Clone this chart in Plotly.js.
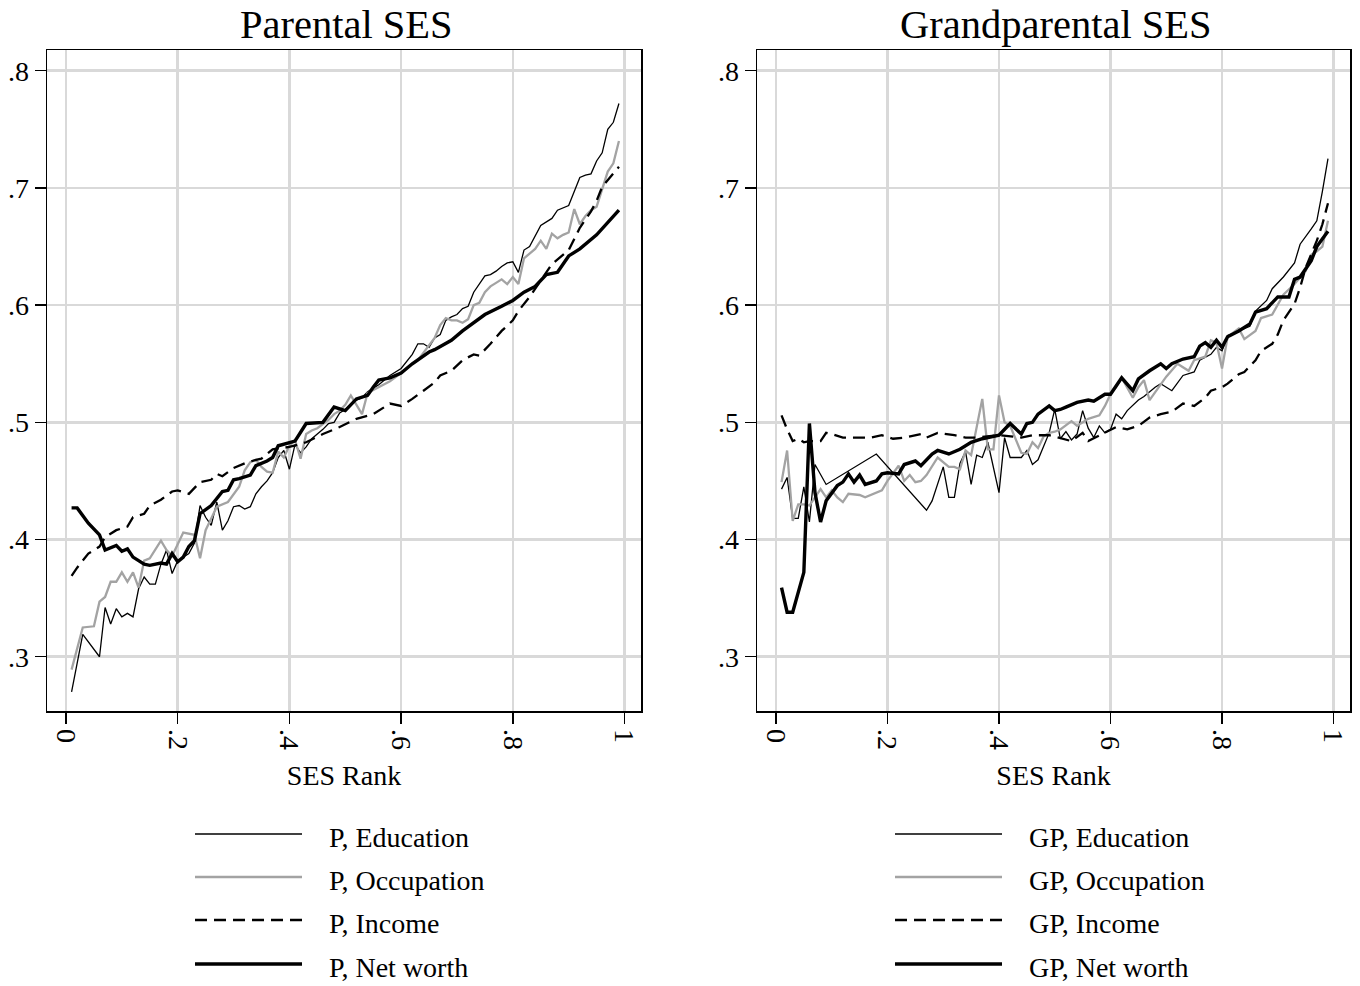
<!DOCTYPE html>
<html>
<head>
<meta charset="utf-8">
<script src="https://cdn.plot.ly/plotly-3.0.1.min.js"></script>
<style>html,body{margin:0;padding:0;background:#fff;}#chart{width:1360px;height:986px;}</style>
</head>
<body>
<div id="chart"></div>
<script>
// ---------- Data ----------
const panelTitles = ["Parental SES", "Grandparental SES"];
const xAxisTitle = "SES Rank";
const xTickVals = [0, 0.2, 0.4, 0.6, 0.8, 1];
const xTickText = ["0", ".2", ".4", ".6", ".8", "1"];
const yTickVals = [0.3, 0.4, 0.5, 0.6, 0.7, 0.8];
const yTickText = [".3", ".4", ".5", ".6", ".7", ".8"];
const leftNames = ["P, Education", "P, Occupation", "P, Income", "P, Net worth"];
const rightNames = ["GP, Education", "GP, Occupation", "GP, Income", "GP, Net worth"];

// Parental SES
const pEduX = [.01,.03,.06,.07,.08,.09,.10,.11,.12,.13,.14,.15,.16,.17,.18,.19,.20,.22,.23,.24,.25,.26,.27,.28,.29,.30,.31,.32,.33,.34,.35,.36,.37,.38,.39,.40,.41,.42,.43,.44,.45,.46,.47,.48,.49,.50,.52,.53,.54,.56,.58,.60,.62,.63,.64,.65,.66,.67,.68,.69,.70,.71,.72,.73,.75,.76,.77,.78,.79,.80,.81,.82,.83,.85,.87,.88,.90,.92,.93,.94,.95,.96,.97,.98,.99];
const pEduY = [.270,.319,.300,.342,.328,.341,.334,.337,.334,.358,.368,.362,.362,.379,.391,.371,.382,.388,.397,.429,.419,.412,.432,.408,.416,.428,.429,.426,.428,.439,.445,.450,.457,.470,.476,.460,.481,.474,.479,.486,.490,.494,.499,.500,.508,.511,.519,.521,.526,.532,.540,.546,.558,.567,.567,.564,.572,.575,.587,.590,.592,.597,.599,.611,.625,.626,.629,.633,.636,.637,.628,.647,.650,.668,.674,.681,.685,.709,.711,.712,.723,.730,.750,.756,.772];

const pOccX = [.01,.03,.05,.06,.07,.08,.09,.10,.11,.12,.13,.14,.15,.16,.17,.18,.19,.21,.22,.23,.24,.25,.26,.27,.29,.30,.31,.32,.33,.34,.35,.36,.37,.38,.39,.40,.41,.42,.43,.44,.45,.47,.48,.49,.50,.51,.52,.53,.54,.56,.58,.60,.62,.63,.65,.66,.67,.68,.69,.70,.71,.72,.73,.74,.75,.76,.77,.78,.79,.80,.81,.82,.83,.84,.85,.86,.87,.88,.89,.90,.91,.92,.93,.94,.95,.96,.97,.98,.99];
const pOccY = [.289,.325,.326,.347,.351,.364,.364,.372,.364,.372,.359,.382,.384,.392,.399,.391,.386,.406,.405,.404,.384,.408,.418,.428,.432,.439,.445,.459,.466,.468,.462,.458,.457,.475,.470,.480,.485,.469,.490,.493,.495,.502,.507,.510,.515,.523,.515,.507,.525,.530,.535,.542,.550,.553,.565,.572,.583,.589,.587,.587,.585,.588,.600,.602,.611,.616,.619,.622,.618,.624,.618,.640,.644,.648,.655,.648,.661,.657,.660,.662,.682,.669,.676,.681,.684,.700,.714,.721,.740];

const pIncX = [.01,.02,.04,.06,.07,.09,.11,.12,.14,.15,.17,.19,.20,.22,.24,.26,.27,.28,.30,.32,.34,.35,.37,.40,.43,.46,.49,.52,.55,.58,.60,.62,.64,.66,.67,.69,.71,.73,.74,.76,.78,.80,.81,.83,.85,.87,.90,.92,.94,.95,.96,.99];
const pIncY = [.369,.376,.388,.394,.402,.408,.411,.419,.422,.429,.434,.441,.442,.439,.449,.451,.456,.454,.461,.465,.468,.469,.477,.479,.483,.490,.496,.503,.507,.516,.514,.520,.527,.534,.540,.544,.553,.558,.557,.567,.578,.587,.595,.607,.621,.635,.647,.666,.680,.689,.701,.718];

const pNetX = [.01,.02,.04,.06,.07,.09,.10,.11,.12,.13,.14,.15,.16,.17,.18,.19,.20,.21,.22,.23,.24,.26,.28,.29,.30,.31,.33,.34,.36,.37,.38,.40,.41,.43,.45,.46,.48,.50,.52,.54,.55,.56,.58,.60,.62,.64,.65,.66,.69,.71,.73,.75,.78,.80,.82,.84,.86,.88,.90,.92,.95,.97,.99];
const pNetY = [.427,.427,.414,.404,.391,.395,.390,.392,.385,.382,.379,.378,.379,.380,.379,.388,.381,.385,.394,.399,.422,.429,.441,.442,.451,.452,.455,.463,.467,.470,.480,.483,.484,.499,.500,.500,.513,.510,.520,.523,.530,.536,.538,.542,.550,.557,.560,.562,.570,.578,.585,.592,.599,.604,.611,.616,.626,.628,.642,.648,.660,.670,.681];

// Grandparental SES
const gEduX = [.01,.02,.03,.04,.05,.06,.07,.09,.18,.27,.28,.30,.31,.32,.33,.34,.35,.36,.37,.38,.40,.41,.42,.44,.45,.46,.47,.48,.49,.50,.51,.52,.53,.54,.55,.56,.57,.58,.59,.60,.61,.62,.63,.65,.66,.68,.69,.71,.73,.75,.76,.78,.79,.80,.81,.83,.85,.86,.88,.89,.91,.93,.94,.96,.97,.98,.99];
const gEduY = [.443,.453,.418,.418,.445,.415,.464,.447,.473,.425,.433,.462,.436,.436,.465,.475,.447,.472,.470,.483,.440,.487,.470,.470,.476,.464,.468,.480,.491,.511,.486,.492,.485,.490,.510,.495,.487,.497,.491,.494,.507,.503,.510,.519,.522,.530,.533,.527,.540,.543,.553,.558,.564,.561,.574,.578,.582,.595,.604,.614,.624,.636,.652,.665,.672,.697,.725];

const gOccX = [.01,.02,.03,.04,.05,.06,.07,.08,.09,.10,.11,.12,.13,.15,.16,.18,.19,.20,.22,.23,.24,.25,.26,.27,.28,.29,.31,.32,.33,.34,.35,.37,.38,.39,.40,.41,.42,.44,.45,.46,.47,.48,.49,.50,.51,.53,.54,.56,.58,.59,.60,.61,.62,.64,.65,.66,.67,.69,.70,.72,.74,.75,.77,.78,.79,.80,.81,.83,.84,.86,.87,.89,.91,.93,.95,.96,.97,.98,.99];
const gOccY = [.449,.476,.416,.430,.430,.429,.436,.443,.436,.442,.436,.432,.439,.438,.436,.440,.442,.450,.463,.450,.455,.449,.450,.455,.462,.470,.462,.462,.460,.476,.472,.520,.477,.477,.523,.500,.497,.474,.473,.483,.478,.488,.491,.492,.494,.501,.497,.503,.506,.514,.524,.530,.538,.521,.530,.536,.519,.533,.539,.550,.544,.553,.556,.570,.568,.546,.573,.580,.571,.578,.589,.592,.609,.618,.629,.643,.646,.650,.672];

const gIncX = [.01,.02,.03,.04,.05,.06,.08,.09,.10,.12,.15,.17,.19,.21,.23,.26,.27,.29,.32,.34,.36,.40,.44,.46,.49,.53,.55,.56,.61,.63,.65,.67,.69,.71,.73,.75,.77,.78,.80,.81,.83,.84,.86,.87,.89,.90,.91,.93,.94,.95,.97,.98,.99];
const gIncY = [.506,.494,.484,.486,.483,.484,.484,.491,.490,.487,.487,.487,.489,.486,.487,.490,.487,.491,.489,.487,.487,.489,.487,.489,.489,.484,.491,.484,.496,.494,.497,.504,.507,.509,.516,.514,.521,.527,.530,.533,.541,.543,.553,.561,.567,.575,.587,.601,.615,.632,.655,.669,.687];

const gNetX = [.01,.02,.03,.05,.06,.07,.08,.09,.11,.12,.13,.14,.15,.16,.18,.19,.20,.22,.23,.25,.26,.28,.29,.31,.33,.35,.37,.40,.42,.44,.45,.46,.47,.49,.50,.51,.52,.54,.56,.57,.59,.60,.62,.64,.65,.67,.69,.70,.71,.73,.75,.76,.77,.78,.79,.80,.81,.83,.85,.86,.88,.90,.92,.93,.94,.96,.97,.99];
const gNetY = [.359,.338,.338,.372,.499,.440,.415,.433,.446,.449,.456,.449,.455,.447,.450,.456,.457,.456,.464,.467,.463,.473,.476,.473,.477,.483,.486,.489,.499,.490,.499,.500,.507,.514,.510,.511,.513,.517,.519,.518,.524,.524,.538,.527,.537,.544,.550,.546,.550,.554,.556,.565,.568,.564,.570,.564,.573,.578,.584,.594,.597,.607,.607,.622,.624,.638,.650,.663];

// ---------- Styles ----------
const W = 1360, H = 986;
const FONT = "Liberation Serif, Times New Roman, serif";
const styles = [
  {color: "#000000", width: 1.3, dash: "solid"},
  {color: "#a3a3a3", width: 2.3, dash: "solid"},
  {color: "#000000", width: 2.3, dash: "12px,7px"},
  {color: "#000000", width: 3.4, dash: "solid"}
];
const px = v => v / W;
const py = v => 1 - v / H;

const leftSeries = [[pEduX, pEduY], [pOccX, pOccY], [pIncX, pIncY], [pNetX, pNetY]];
const rightSeries = [[gEduX, gEduY], [gOccX, gOccY], [gIncX, gIncY], [gNetX, gNetY]];

const traces = [];
leftSeries.forEach((s, i) => traces.push({
  x: s[0], y: s[1], type: "scatter", mode: "lines", name: leftNames[i],
  xaxis: "x", yaxis: "y", showlegend: false, line: styles[i]
}));
rightSeries.forEach((s, i) => traces.push({
  x: s[0], y: s[1], type: "scatter", mode: "lines", name: rightNames[i],
  xaxis: "x2", yaxis: "y2", showlegend: false, line: styles[i]
}));

function xax(dom) {
  return {
    domain: dom, range: [-0.034, 1.0295], tickmode: "array",
    tickvals: xTickVals, ticktext: xTickText, tickangle: 90,
    ticks: "outside", ticklen: 11, tickwidth: 1.5, tickcolor: "#000",
    showline: true, linecolor: "#000", linewidth: 1.5, mirror: true,
    showgrid: true, gridcolor: "#d9d9d9", gridwidth: 2.5, zeroline: false,
    tickfont: {family: FONT, size: 28, color: "#000"},
    title: {text: xAxisTitle, font: {family: FONT, size: 28, color: "#000"}, standoff: 16}
  };
}
function yax(anchor) {
  return {
    domain: [1 - 711 / H, 1 - 50 / H], range: [0.2537, 0.8177], anchor: anchor,
    tickmode: "array", tickvals: yTickVals, ticktext: yTickText,
    ticks: "outside", ticklen: 11, tickwidth: 1.5, tickcolor: "#000",
    showline: true, linecolor: "#000", linewidth: 1.5, mirror: true,
    showgrid: true, gridcolor: "#d9d9d9", gridwidth: 2.5, zeroline: false,
    tickfont: {family: FONT, size: 28, color: "#000"}
  };
}

const shapes = [], annotations = [];
// panel titles
[[346, panelTitles[0]], [1056, panelTitles[1]]].forEach(t => annotations.push({
  xref: "paper", yref: "paper", x: px(t[0]), y: py(25), xanchor: "center", yanchor: "middle",
  text: t[1], showarrow: false, font: {family: FONT, size: 40.5, color: "#000"}
}));
// legends
const legendRows = [834, 877, 920, 964];
[[195, 302, 327, leftNames], [895, 1002, 1027, rightNames]].forEach(L => {
  legendRows.forEach((ry, i) => {
    shapes.push({type: "line", xref: "paper", yref: "paper",
      x0: px(L[0]), x1: px(L[1]), y0: py(ry), y1: py(ry), line: styles[i]});
    annotations.push({xref: "paper", yref: "paper", x: px(L[2]), y: py(ry + 3),
      xanchor: "left", yanchor: "middle", text: L[3][i], showarrow: false,
      font: {family: FONT, size: 28, color: "#000"}});
  });
});

const layout = {
  width: W, height: H, margin: {l: 0, r: 0, t: 0, b: 0},
  paper_bgcolor: "#fff", plot_bgcolor: "#fff", showlegend: false,
  font: {family: FONT, color: "#000"},
  xaxis: xax([47 / W, 641 / W]), yaxis: yax("x"),
  xaxis2: xax([757 / W, 1350 / W]), yaxis2: yax("x2"),
  shapes: shapes, annotations: annotations
};
layout.xaxis.anchor = "y";
layout.xaxis2.anchor = "y2";

Plotly.newPlot("chart", traces, layout, {displayModeBar: false, staticPlot: true});
</script>
</body>
</html>
